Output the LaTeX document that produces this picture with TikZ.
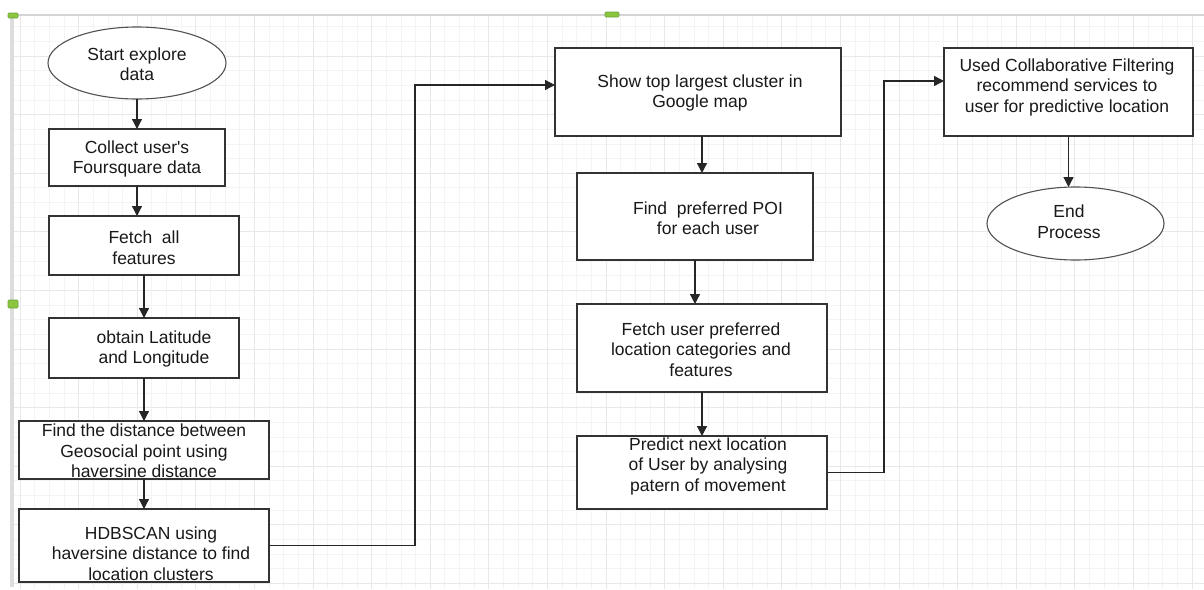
\documentclass[tikz,border=0pt]{standalone}
\usepackage{fontspec}
\setmainfont{Liberation Sans}[Ligatures=TeXOff]
\usetikzlibrary{shapes.geometric,arrows.meta}
\definecolor{gridminor}{HTML}{F4F4F4}
\definecolor{gridmajor}{HTML}{E8E8E8}
\definecolor{frameg}{HTML}{D4D4D4}
\definecolor{edge}{HTML}{333333}
\definecolor{mkfill}{HTML}{8CC63F}
\definecolor{mkdraw}{HTML}{6AA53A}
\tikzset{
  box/.style={draw=edge, line width=1.4pt, fill=white, rectangle, inner sep=0pt, outer sep=0pt},
  term/.style={draw=edge!85, line width=1.1pt, fill=white, ellipse, inner sep=0pt, outer sep=0pt},
  txt/.style={align=center, inner sep=0pt, font=\fontsize{17.5}{20.5}\selectfont, text=black!90},
  flow/.style={draw=black!85, line width=1.3pt, -{Triangle[length=10pt,width=10pt]}},
  marker/.style={fill=mkfill, draw=mkdraw, line width=0.6pt, rounded corners=1pt},
}
\begin{document}
\begin{tikzpicture}[x=1pt,y=-1pt]
\useasboundingbox (0,0) rectangle (1204,589);
\fill[white] (0,0) rectangle (1204,589);
% grid
\begin{scope}
\clip (12,15) rectangle (1204,589);
\foreach \i in {-1,...,81} {
  \draw[gridminor, line width=0.8pt] ({20+14.65*\i},15) -- ({20+14.65*\i},589);
}
\foreach \i in {-3,...,37} {
  \draw[gridminor, line width=0.8pt] (12,{56+14.65*\i}) -- (1204,{56+14.65*\i});
}
\foreach \i in {0,...,20} {
  \draw[gridmajor, line width=1pt] ({20+58.6*\i},15) -- ({20+58.6*\i},589);
}
\foreach \i in {-1,...,9} {
  \draw[gridmajor, line width=1pt] (12,{56+58.6*\i}) -- (1204,{56+58.6*\i});
}
\end{scope}
% frame
\fill[frameg!80] (9.5,14) rectangle (14,587);
\draw[frameg, line width=2pt] (10,14.5) -- (1204,14.5);
\draw[marker] (8,13) rectangle (18,18);
\draw[marker] (605,12) rectangle (619,17);
\draw[marker] (8,300) rectangle (18,308);

% shapes
\node[term, minimum width=178pt, minimum height=72pt] (e1) at (137,63) {};
\node[box, minimum width=176pt, minimum height=57pt] (b2) at (137,157.5) {};
\node[box, minimum width=190pt, minimum height=59pt] (b3) at (144,245.5) {};
\node[box, minimum width=190pt, minimum height=60pt] (b4) at (144,348) {};
\node[box, minimum width=250pt, minimum height=58pt] (b5) at (144,450) {};
\node[box, minimum width=250pt, minimum height=73pt] (b6) at (144,545.5) {};
\node[box, minimum width=286pt, minimum height=88pt] (b7) at (698,92) {};
\node[box, minimum width=236pt, minimum height=87pt] (b8) at (695,216.5) {};
\node[box, minimum width=250pt, minimum height=88pt] (b9) at (702,348) {};
\node[box, minimum width=250pt, minimum height=73pt] (b10) at (702,472.5) {};
\node[box, minimum width=249pt, minimum height=88pt] (b11) at (1068.5,92) {};
\node[term, minimum width=177pt, minimum height=73pt] (e12) at (1075.5,223.5) {};

% texts
\node[txt] (t1) at (137,64) {Start explore\\data};
\node[txt] (t2) at (137,159) {Collect user's\\Foursquare data};
\node[txt] (t3) at (144,247.5) {Fetch\ \ all\\features};
\node[txt] (t4) at (154,349) {obtain Latitude\\and Longitude};
\node[txt] (t5) at (144,451) {Find the distance between\\Geosocial point using\\haversine distance};
\node[txt] (t6) at (151,553.5) {HDBSCAN using\\haversine distance to find\\location clusters};
\node[txt] (t7) at (700,93) {Show top largest cluster in\\Google map};
\node[txt] (t8) at (708,218) {Find\ \ preferred POI\\for each user};
\node[txt] (t9) at (701,349.5) {Fetch user preferred\\location categories and\\features};
\node[txt] (t10) at (708,466) {Predict next location\\of User by analysing\\patern of movement};
\node[txt] (t11) at (1067,87) {Used Collaborative Filtering\\recommend services to\\user for predictive location};
\node[txt] (t12) at (1069,221.5) {End\\Process};

% connectors
\coordinate (k1) at (415,85);
\coordinate (k2) at (884,81);
\draw[flow] (e1.south) -- (b2.north);
\draw[flow] (b2.south) -- (b2.south |- b3.north);
\draw[flow] (b3.south) -- (b3.south |- b4.north);
\draw[flow] (b4.south) -- (b4.south |- b5.north);
\draw[flow] (b5.south) -- (b5.south |- b6.north);
\draw[flow] (b6.east) -| (k1) -- (k1 -| b7.west);
\draw[flow] ([xshift=4pt]b7.south) -- ([xshift=4pt]b7.south |- b8.north);
\draw[flow] (b8.south) -- (b8.south |- b9.north);
\draw[flow] (b9.south) -- (b9.south |- b10.north);
\draw[flow] (b10.east) -| (k2) -- (k2 -| b11.west);
\draw[flow] (b11.south) -- (b11.south |- e12.north);
\end{tikzpicture}
\end{document}
